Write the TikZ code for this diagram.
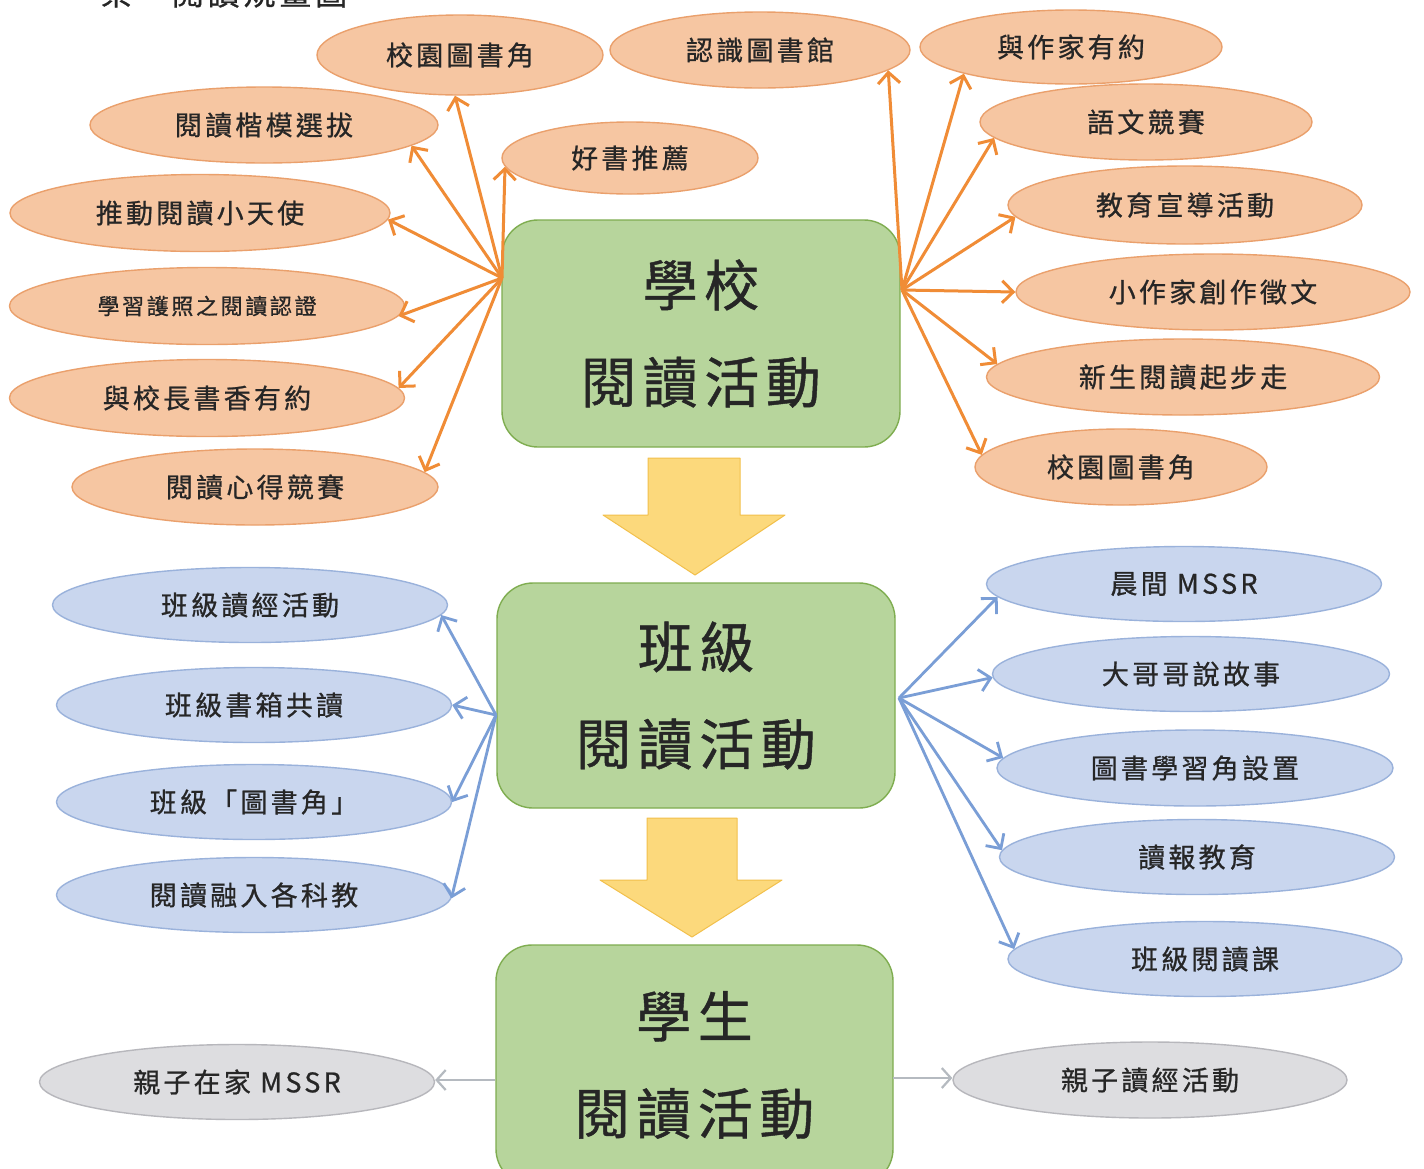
\documentclass[tikz,border=0pt]{standalone}
\usepackage{fontspec}
\newfontfamily\cjk[LetterSpace=12,FakeBold=0.8]{Noto Sans CJK TC}
\usetikzlibrary{shapes.geometric,arrows.meta}
\definecolor{txt}{HTML}{262626}
\definecolor{ofill}{HTML}{F6C6A2}
\definecolor{oline}{HTML}{EAA06C}
\definecolor{oarrc}{HTML}{F08C36}
\definecolor{bfill}{HTML}{C9D6EE}
\definecolor{bline}{HTML}{9AB2DB}
\definecolor{barrc}{HTML}{7A9ED6}
\definecolor{gfill}{HTML}{DDDDE0}
\definecolor{gline}{HTML}{B7B7BC}
\definecolor{garrc}{HTML}{B5BAC0}
\definecolor{grfill}{HTML}{B7D59C}
\definecolor{grline}{HTML}{7FAD50}
\definecolor{yfill}{HTML}{FCD97C}
\definecolor{yline}{HTML}{F2C04C}
\tikzset{
  oval/.style={ellipse, inner sep=0pt, line width=1.4pt, text=txt,
    font=\cjk\fontsize{27}{30}\selectfont},
  orng/.style={oval, fill=ofill, draw=oline},
  blu/.style={oval, fill=bfill, draw=bline},
  gry/.style={oval, fill=gfill, draw=gline},
  gbox/.style={rectangle, rounded corners=36pt, fill=grfill, draw=grline,
    line width=1.4pt, align=center, text=txt,
    font=\cjk\fontsize{55}{97}\selectfont},
  oarr/.style={draw=oarrc, line width=3pt, -{Straight Barb[length=11pt,width=22pt]}},
  barr/.style={draw=barrc, line width=2.8pt, -{Straight Barb[length=11pt,width=22pt]}},
  garr/.style={draw=garrc, line width=2.2pt, -{Straight Barb[length=9pt,width=20pt]}},
  yarr/.style={fill=yfill, draw=yline, line width=1pt, line join=round}
}
\begin{document}
\begin{tikzpicture}[x=1pt,y=-1pt]
\useasboundingbox (0,0) rectangle (1424,1168);
\clip (0,0) rectangle (1424,1168);
\fill[white] (0,0) rectangle (1424,1168);

% title (cut off at the top edge, as in the reference)
\node[anchor=base west, inner sep=0pt, text=txt, font=\cjk\fontsize{32}{36}\selectfont] (title) at (100,5) {案一閱讀規畫圖};

% green boxes
\node[gbox, minimum width=398pt, minimum height=227pt] (s1) at (701,333.5) {學校\\閱讀活動};
\node[gbox, minimum width=398pt, minimum height=225pt] (s2) at (696,695.5) {班級\\閱讀活動};
\node[gbox, minimum width=397pt, minimum height=240pt] (s3) at (694.5,1065) {學生\\閱讀活動};

% yellow arrows
\draw[yarr] (648,458) -- (740,458) -- (740,515) -- (785,515) -- (695,575) -- (603,515) -- (648,515) -- cycle;
\draw[yarr] (647,818) -- (737,818) -- (737,880) -- (782,880) -- (692,937) -- (600,880) -- (647,880) -- cycle;

% orange ellipses
\node[orng, minimum width=286pt, minimum height=80pt] (a1) at (460,55) {校園圖書角};
\node[orng, minimum width=348pt, minimum height=76pt] (a2) at (264,125) {閱讀楷模選拔};
\node[orng, minimum width=380pt, minimum height=77pt] (a3) at (200,213) {推動閱讀小天使};
\node[orng, minimum width=395pt, minimum height=77pt, font=\cjk\fontsize{22}{26}\selectfont] (a4) at (207,306) {學習護照之閱讀認證};
\node[orng, minimum width=395pt, minimum height=77pt] (a5) at (207,398) {與校長書香有約};
\node[orng, minimum width=366pt, minimum height=76pt] (a6) at (255,487) {閱讀心得競賽};
\node[orng, minimum width=256pt, minimum height=72pt] (a7) at (630,158) {好書推薦};
\node[orng, minimum width=300pt, minimum height=76pt] (b1) at (760,50) {認識圖書館};
\node[orng, minimum width=302pt, minimum height=74pt] (b2) at (1071,47) {與作家有約};
\node[orng, minimum width=332pt, minimum height=76pt] (b3) at (1146,122) {語文競賽};
\node[orng, minimum width=354pt, minimum height=78pt] (b4) at (1185,205) {教育宣導活動};
\node[orng, minimum width=394pt, minimum height=76pt] (b5) at (1213,292) {小作家創作徵文};
\node[orng, minimum width=393pt, minimum height=76pt] (b6) at (1183,377) {新生閱讀起步走};
\node[orng, minimum width=292pt, minimum height=76pt] (b7) at (1121,467) {校園圖書角};

% blue ellipses
\node[blu, minimum width=395pt, minimum height=75pt] (c1) at (250,605) {班級讀經活動};
\node[blu, minimum width=395pt, minimum height=75pt] (c2) at (254,705) {班級書箱共讀};
\node[blu, minimum width=395pt, minimum height=75pt] (c3) at (254,802) {班級「圖書角」};
\node[blu, minimum width=395pt, minimum height=75pt] (c4) at (254,895) {閱讀融入各科教};
\node[blu, minimum width=395pt, minimum height=75pt] (d1) at (1184,584) {晨間 MSSR};
\node[blu, minimum width=397pt, minimum height=75pt] (d2) at (1191,674) {大哥哥說故事};
\node[blu, minimum width=396pt, minimum height=76pt] (d3) at (1195,768) {圖書學習角設置};
\node[blu, minimum width=395pt, minimum height=75pt] (d4) at (1197,857) {讀報教育};
\node[blu, minimum width=394pt, minimum height=75pt] (d5) at (1205,959) {班級閱讀課};

% gray ellipses
\node[gry, minimum width=395pt, minimum height=75pt] (e1) at (237,1082) {親子在家 MSSR};
\node[gry, minimum width=394pt, minimum height=76pt] (e2) at (1150,1080) {親子讀經活動};

% arrow origins on the box edges
\coordinate (OL) at (502,278);
\coordinate (OR) at (902,290);
\coordinate (BL) at (496,715);
\coordinate (BR) at (899,698);
\coordinate (GL) at (495,1080);
\coordinate (GR) at (893,1078);

% orange arrows
\draw[oarr] (OL) -- (a1.-97);
\draw[oarr] (OL) -- (a2.-8);
\draw[oarr] (OL) -- (a3.-2);
\draw[oarr] (OL) -- (a4.-3);
\draw[oarr] (OL) -- (a5.3);
\draw[oarr] (OL) -- (a6.5);
\draw[oarr] (OL) -- (a7.-176);
\draw[oarr] (OR) -- (b1.-9);
\draw[oarr] (OR) -- (b2.-166);
\draw[oarr] (OR) -- (b3.-174);
\draw[oarr] (OR) -- (b4.-176);
\draw[oarr] (OR) -- (b5.180);
\draw[oarr] (OR) -- (b6.176);
\draw[oarr] (OR) -- (b7.175);

% blue arrows
\draw[barr] (BL) -- (c1.-3);
\draw[barr] (BL) -- (c2.0);
\draw[barr] (BL) -- (c3.0);
\draw[barr] (BL) -- (c4.-1);
\draw[barr] (BR) -- (d1.-176);
\draw[barr] (BR) -- (d2.-179);
\draw[barr] (BR) -- (d3.177);
\draw[barr] (BR) -- (d4.178);
\draw[barr] (BR) -- (d5.177);

% gray arrows (horizontal)
\draw[garr] (GL) -- (GL -| e1.east);
\draw[garr] (GR) -- (GR -| e2.west);
\end{tikzpicture}
\end{document}
